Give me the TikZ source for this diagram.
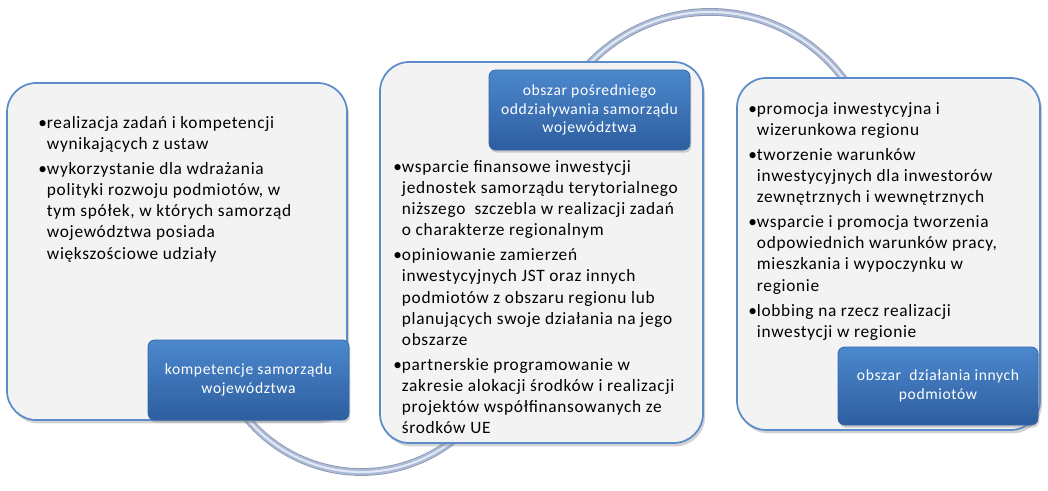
\documentclass[tikz,border=0pt]{standalone}
\usepackage{fontspec}
\setmainfont{Carlito}[LetterSpace=4]
\usetikzlibrary{shadows}
\definecolor{boxblue}{HTML}{5B8BC8}
\definecolor{boxfill}{HTML}{F3F3F3}
\definecolor{labtop}{HTML}{4C88CD}
\definecolor{labbot}{HTML}{2D5E9F}
\definecolor{labedge}{HTML}{3567A8}
\definecolor{tubemain}{HTML}{A9B9D6}
\definecolor{tubeedge}{HTML}{8C98B0}
\definecolor{tubelight}{HTML}{E3E9F4}
\newcommand\blist[1]{\begin{tabular}{@{}l@{}l@{}}#1\end{tabular}}
\newcommand\bu{\makebox[6.5pt][l]{•}}
\begin{document}
\begin{tikzpicture}[x=0.75pt,y=-0.75pt,
  bigbox/.style={draw=boxblue, line width=1.3pt, fill=boxfill, rounded corners=22pt,
    drop shadow={opacity=0.35,shadow xshift=1.5pt,shadow yshift=-2.5pt}},
  labelbox/.style={rounded corners=5pt, top color=labtop, bottom color=labbot,
    draw=labedge, line width=0.6pt, text=white, align=center,
    font=\fontsize{11.7pt}{14pt}\selectfont,
    drop shadow={opacity=0.35,shadow xshift=1pt,shadow yshift=-2pt}},
  txt/.style={inner sep=0pt, anchor=north west, font=\fontsize{13pt}{15.9pt}\selectfont},
  tube/.style={line width=4.6pt, draw=tubemain,
    preaction={draw=tubeedge, line width=5.8pt},
    postaction={draw=tubelight, line width=1.6pt}}]
\useasboundingbox (0,0) rectangle (1048,490);
% connecting arcs
\coordinate (cT) at (710,178.5);
\coordinate (cB) at (361.4,323);
\draw[tube] ([shift={(140:124.95pt)}]cT) arc[start angle=140,end angle=33,radius=124.95pt];
\draw[tube] ([shift={(-141:111.75pt)}]cB) arc[start angle=-141,end angle=-50,radius=111.75pt];
% boxes
\node[bigbox, minimum width=255pt, minimum height=252.75pt] (L) at (177,251.5) {};
\node[bigbox, minimum width=242.25pt, minimum height=285.75pt] (M) at (541.5,252.5) {};
\node[bigbox, minimum width=227.25pt, minimum height=264pt] (R) at (888.5,254) {};
% labels
\node[labelbox, minimum width=150.75pt, minimum height=60pt] (LL) at (248.5,380) {kompetencje samorządu\\województwa};
\node[labelbox, minimum width=150.75pt, minimum height=60pt] (ML) at (589.5,110) {obszar pośredniego\\oddziaływania samorządu\\województwa};
\node[labelbox, minimum width=150pt, minimum height=58.5pt] (RL) at (938,386) {obszar~ działania innych\\podmiotów};
% texts
\node[txt] (tL) at (38,113) {\blist{
\bu&realizacja zadań i kompetencji\\
&wynikających z ustaw\\[2.8pt]
\bu&wykorzystanie dla wdrażania\\
&polityki rozwoju podmiotów, w\\
&tym spółek, w których samorząd\\
&województwa posiada\\
&większościowe udziały}};
\node[txt] (tM) at (393,157) {\blist{
\bu&wsparcie finansowe inwestycji\\
&jednostek samorządu terytorialnego\\
&niższego~ szczebla w realizacji zadań\\
&o charakterze regionalnym\\[2.8pt]
\bu&opiniowanie zamierzeń\\
&inwestycyjnych JST oraz innych\\
&podmiotów z obszaru regionu lub\\
&planujących swoje działania na jego\\
&obszarze\\[2.8pt]
\bu&partnerskie programowanie w\\
&zakresie alokacji środków i realizacji\\
&projektów współfinansowanych ze\\
&środków UE}};
\node[txt] (tR) at (748,99) {\blist{
\bu&promocja inwestycyjna i\\
&wizerunkowa regionu\\[2.8pt]
\bu&tworzenie warunków\\
&inwestycyjnych dla inwestorów\\
&zewnętrznych i wewnętrznych\\[2.8pt]
\bu&wsparcie i promocja tworzenia\\
&odpowiednich warunków pracy,\\
&mieszkania i wypoczynku w\\
&regionie\\[2.8pt]
\bu&lobbing na rzecz realizacji\\
&inwestycji w regionie}};
\end{tikzpicture}
\end{document}
